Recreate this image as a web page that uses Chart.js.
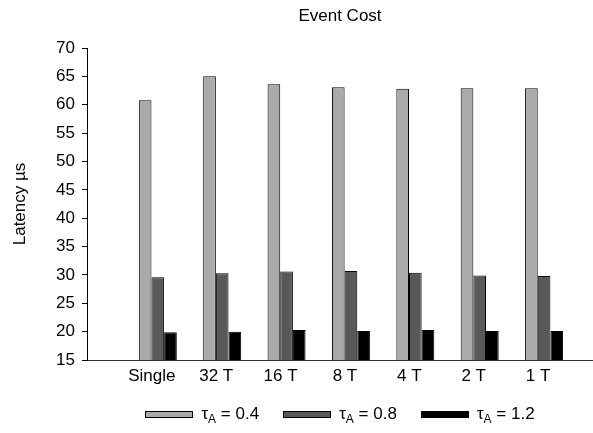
<!DOCTYPE html>
<html>
<head>
<meta charset="utf-8">
<script src="https://cdn.jsdelivr.net/npm/chart.js@4.4.1/dist/chart.umd.min.js"></script>
<style>
  html, body { margin: 0; padding: 0; background: #fff; }
  #wrap { position: relative; width: 593px; height: 433px; overflow: hidden; }
  #legend {
    position: absolute; top: 404px; height: 20px;
    display: flex; justify-content: center; align-items: center;
    font-family: "Liberation Sans", Arial, sans-serif; font-size: 17px; color: #000;
  }
  .item { display: flex; align-items: center; margin: 0 12px; white-space: nowrap; }
  .swatch { width: 46px; height: 5px; border: 1px solid #000; margin-right: 8px; }
  sub { font-size: 12px; vertical-align: -4px; line-height: 0; }
</style>
</head>
<body>
<div id="wrap">
  <canvas id="chart" width="593" height="433"></canvas>
  <div id="legend"></div>
</div>
<script>
// Thread configurations on the category axis
const categories = ['Single', '32 T', '16 T', '8 T', '4 T', '2 T', '1 T'];
// Tau settings, one series each
const tauValues = [0.4, 0.8, 1.2];
// Event latency in microseconds
const latencyTau04 = [60.8, 65.0, 63.6, 63.1, 62.8, 62.9, 62.9];
const latencyTau08 = [29.6, 30.3, 30.6, 30.7, 30.4, 29.9, 29.8];
const latencyTau12 = [19.9, 20.0, 20.3, 20.1, 20.3, 20.1, 20.1];
const yTicks = [15, 20, 25, 30, 35, 40, 45, 50, 55, 60, 65, 70];

const seriesValues = [latencyTau04, latencyTau08, latencyTau12];
const seriesColors = ['#aaaaaa', '#595959', '#000000'];
const FONT = '"Liberation Sans", Arial, sans-serif';
const TEXT_SIZE = 17;

Chart.defaults.font.family = FONT;
Chart.defaults.color = '#000';

const datasets = seriesValues.map((vals, s) => ({
  label: 'τA = ' + tauValues[s],
  tau: tauValues[s],
  data: vals.map((v, i) => ({ x: i + 1, y: v })),
  backgroundColor: seriesColors[s],
  borderColor: '#000',
  borderWidth: 1,
  categoryPercentage: 0.59,
  barPercentage: 1.0
}));

const chart = new Chart(document.getElementById('chart'), {
  type: 'bar',
  data: { datasets },
  options: {
    responsive: false,
    animation: false,
    events: [],
    layout: { padding: { left: 0, right: 0, top: 0, bottom: 40 } },
    plugins: {
      legend: { display: false },
      tooltip: { enabled: false },
      title: {
        display: true,
        text: 'Event Cost',
        fullSize: false,
        color: '#000',
        font: { size: TEXT_SIZE, weight: 'normal', family: FONT },
        padding: { top: 6, bottom: 21.6 }
      }
    },
    scales: {
      x: {
        type: 'linear',
        min: -0.1,
        max: 7.76,
        offset: false,
        afterBuildTicks: (axis) => { axis.ticks = categories.map((_, i) => ({ value: i + 1 })); },
        afterFit: (axis) => { axis.height = 33; },
        grid: { display: false, drawTicks: false },
        border: { display: true, color: '#333', width: 1 },
        ticks: {
          callback: (value) => categories[value - 1],
          labelOffset: -6,
          padding: 6,
          autoSkip: false,
          maxRotation: 0,
          color: '#000',
          font: { size: TEXT_SIZE, family: FONT }
        }
      },
      y: {
        min: 15,
        max: 70,
        afterBuildTicks: (axis) => { axis.ticks = yTicks.map(v => ({ value: v })); },
        afterFit: (axis) => { axis.width = 87; },
        grid: { drawOnChartArea: false, drawTicks: true, tickLength: 5, color: '#000' },
        border: { display: true, color: '#000', width: 1 },
        ticks: {
          padding: 7,
          color: '#000',
          font: { size: TEXT_SIZE, family: FONT }
        },
        title: {
          display: true,
          text: 'Latency µs',
          color: '#000',
          font: { size: TEXT_SIZE, family: FONT },
          padding: { top: 10, bottom: 0 }
        }
      }
    }
  }
});

// Legend below the plot, with the subscript on tau
const legendEl = document.getElementById('legend');
const area = chart.chartArea;
legendEl.style.left = area.left + 'px';
legendEl.style.width = (area.right - area.left) + 'px';
chart.data.datasets.forEach((ds) => {
  const item = document.createElement('div');
  item.className = 'item';
  const sw = document.createElement('span');
  sw.className = 'swatch';
  sw.style.background = ds.backgroundColor;
  const label = document.createElement('span');
  label.innerHTML = 'τ<sub>A</sub> = ' + ds.tau;
  item.appendChild(sw);
  item.appendChild(label);
  legendEl.appendChild(item);
});
</script>
</body>
</html>
